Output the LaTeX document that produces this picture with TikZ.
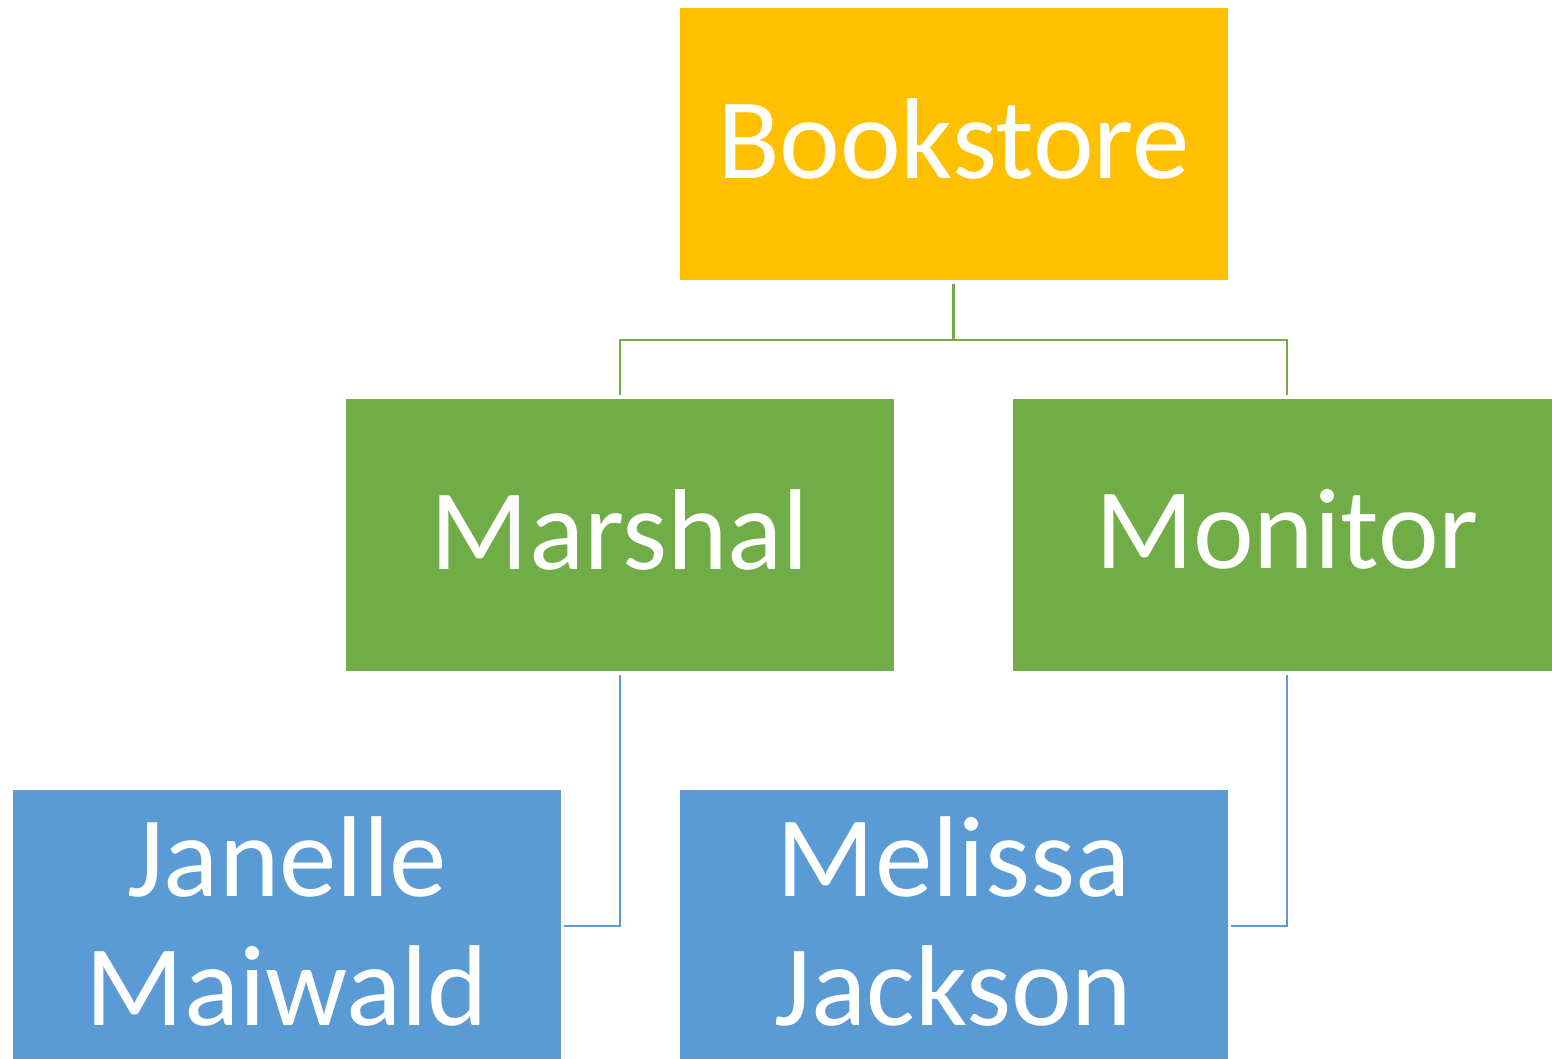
\documentclass[tikz,border=0pt]{standalone}
\usepackage{fontspec}
\setmainfont{Carlito}
\usetikzlibrary{calc}
\definecolor{gold}{HTML}{FFC000}
\definecolor{leaf}{HTML}{70AD47}
\definecolor{sky}{HTML}{5B9BD5}
\begin{document}
\begin{tikzpicture}[x=1pt,y=-1pt,
  box/.style={rectangle,inner sep=0pt,outer sep=0pt,minimum width=548pt,minimum height=272pt},
  lbl/.style={inner sep=0pt,text=white,align=center,yshift=5pt,
    font=\fontsize{115}{129}\selectfont},
  conn/.style={line width=2.5pt}]
\useasboundingbox (0,0) rectangle (1552,1058);
\begin{scope}
\clip (0,0) rectangle (1552,1058);
\node[box,fill=gold] (book) at (953.5,144) {};
\node[box,fill=leaf] (marshal) at (620,534.5) {};
\node[box,fill=leaf] (monitor) at (1287,534.5) {};
\node[box,fill=sky] (janelle) at (287,926) {};
\node[box,fill=sky] (melissa) at (953.5,926) {};
\end{scope}
\node[lbl] (bookT) at (book) {Bookstore};
\node[lbl] (marshalT) at (marshal) {Marshal};
\node[lbl] (monitorT) at (monitor) {Monitor};
\node[lbl] (janelleT) at (janelle) {Janelle\\Maiwald};
\node[lbl] (melissaT) at (melissa) {Melissa\\Jackson};
\coordinate (bus) at (953.5,340);
\draw[conn,leaf] ($(book.south)+(0,4)$) -- (bus);
\draw[conn,leaf] (bus) -| ($(marshal.north)+(0,-4)$);
\draw[conn,leaf] (bus) -| ($(monitor.north)+(0,-4)$);
\draw[conn,sky] ($(marshal.south)+(0,4)$) |- ($(janelle.east)+(3,0)$);
\draw[conn,sky] ($(monitor.south)+(0,4)$) |- ($(melissa.east)+(3,0)$);
\end{tikzpicture}
\end{document}
